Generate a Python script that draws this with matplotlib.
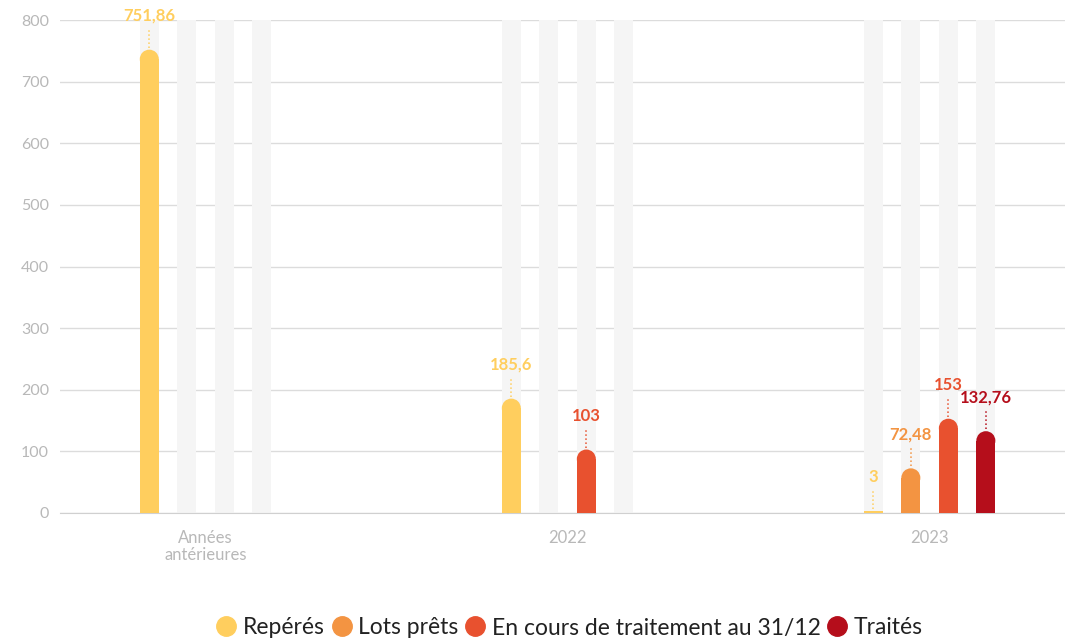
import numpy as np
import matplotlib.pyplot as plt
from matplotlib.patches import Ellipse
from matplotlib.lines import Line2D

plt.rcParams.update({'font.family': ['Lato', 'DejaVu Sans'], 'font.size': 11})

categories = ['Années\nantérieures', '2022', '2023']
series_names = ['Repérés', 'Lots prêts', 'En cours de traitement au 31/12', 'Traités']
reperes = [751.86, 185.6, 3]
lots_prets = [None, None, 72.48]
en_cours = [None, 103, 153]
traites = [None, None, 132.76]
value_labels = [['751,86', '185,6', '3'],
                [None, None, '72,48'],
                [None, '103', '153'],
                [None, None, '132,76']]

colors = ['#FFCE5E', '#F39442', '#E8512F', '#B50E1B']
series = [reperes, lots_prets, en_cours, traites]

W, H = 1065, 638
fig = plt.figure(figsize=(W / 100, H / 100), dpi=100)
ax = fig.add_axes([60 / W, 1 - 513 / H, 1 - 60 / W, 493 / H])

x = np.arange(len(categories))
step = 0.1036
width = 0.0525
offsets = (np.arange(4) - 1.5) * step

ax.set_xlim(-0.402, 2.374)
ax.set_ylim(0, 800)

# px -> data units for y
ypx = 800 / 493
r = 9.5 * ypx  # radius of rounded top in y data units

for i, (vals, col) in enumerate(zip(series, colors)):
    xs = x + offsets[i]
    # grey background slots
    ax.bar(xs, [800] * len(xs), width=width, color='#F5F5F5', zorder=1)
    for j, v in enumerate(vals):
        if v is None:
            continue
        if v > 2 * r:
            ax.bar(xs[j], v - r, width=width, color=col, zorder=3, linewidth=0)
            ax.add_patch(Ellipse((xs[j], v - r), width, 2 * r, color=col, zorder=3, linewidth=0))
        else:
            ax.bar(xs[j], v, width=width, color=col, zorder=3, linewidth=0)
        ax.plot([xs[j], xs[j]], [v + 2 * ypx, v + 22 * ypx], color=col, linestyle=':',
                linewidth=1.1, zorder=4, clip_on=False)
        ax.text(xs[j], v + 34 * ypx, value_labels[i][j], color=col, fontsize=12,
                fontweight='bold', ha='center', va='center', clip_on=False)

ax.set_yticks(np.arange(0, 801, 100))
ax.yaxis.grid(True, color='#DCDCDC', linewidth=1)
ax.set_axisbelow(True)
ax.tick_params(axis='y', length=0, pad=8, labelcolor='#B8B8B8', labelsize=11.5)
ax.set_xticks(x)
ax.set_xticklabels(categories, color='#B8B8B8', fontsize=12, linespacing=1.1)
ax.tick_params(axis='x', length=0, pad=12)
for s in ['top', 'right', 'left']:
    ax.spines[s].set_visible(False)
ax.spines['bottom'].set_color('#D0D0D0')

handles = [Line2D([], [], marker='o', linestyle='', markersize=14, color=c) for c in colors]
fig.legend(handles, series_names, loc='center', bbox_to_anchor=(0.535, 1 - 628 / H), ncol=4,
           frameon=False, fontsize=16.5, handlelength=0.85, handletextpad=0.3,
           columnspacing=0.3, labelcolor='#222222')

fig.savefig('out.png', dpi=100)
